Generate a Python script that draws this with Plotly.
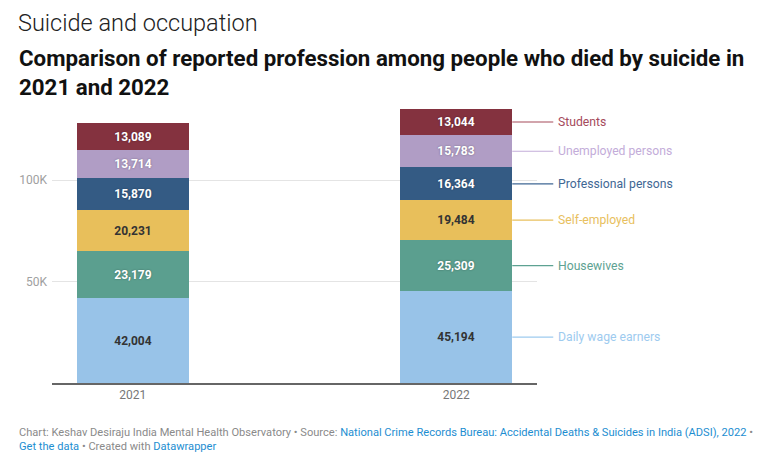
import plotly.graph_objects as go

# ---- data ----
years = ["2021", "2022"]
categories = ["Daily wage earners", "Housewives", "Self-employed",
              "Professional persons", "Unemployed persons", "Students"]
values = {
    "Daily wage earners":   [42004, 45194],
    "Housewives":           [23179, 25309],
    "Self-employed":        [20231, 19484],
    "Professional persons": [15870, 16364],
    "Unemployed persons":   [13714, 15783],
    "Students":             [13089, 13044],
}
y_tick_vals = [50000, 100000]
y_tick_text = ["50K", "100K"]

# ---- styles ----
bar_colors = {
    "Daily wage earners":   "#98c3e8",
    "Housewives":           "#5b9f8f",
    "Self-employed":        "#e8bf5b",
    "Professional persons": "#345b84",
    "Unemployed persons":   "#b09dc5",
    "Students":             "#84323f",
}
label_colors = {
    "Daily wage earners":   "#9ecbef",
    "Housewives":           "#5ea292",
    "Self-employed":        "#e8c05e",
    "Professional persons": "#3f6794",
    "Unemployed persons":   "#c3acd9",
    "Students":             "#a54a5b",
}
inside_text_colors = {
    "Daily wage earners":   "#333333",
    "Housewives":           "#ffffff",
    "Self-employed":        "#333333",
    "Professional persons": "#ffffff",
    "Unemployed persons":   "#ffffff",
    "Students":             "#ffffff",
}

# The page body has an 8px margin, so the figure is drawn at (8, 8) in the window.
OFF = 8
W, H = 768 - OFF, 459 - OFF
ML = 52 - OFF
MR = W - (537 - OFF)
MT = 99 - OFF
MB = H - (383 - OFF)
X_RANGE = [-0.25, 1.25]
Y_RANGE = [0, 140000]
BAR_W = 0.347
FONT = "Roboto, Arial, sans-serif"

plot_w = W - ML - MR
plot_h = H - MT - MB


def px_to_paper_x(px):
    return (px - OFF - ML) / plot_w


def px_to_paper_y(py):
    return (H - MB - (py - OFF)) / plot_h


def data_to_paper_x(x):
    return (x - X_RANGE[0]) / (X_RANGE[1] - X_RANGE[0])


xpos = list(range(len(years)))

fig = go.Figure()
for cat in categories:
    vals = values[cat]
    white = inside_text_colors[cat] == "#ffffff"
    fig.add_trace(go.Bar(
        x=xpos, y=vals, name=cat, width=BAR_W,
        marker=dict(color=bar_colors[cat], line=dict(width=0)),
        text=[f"{v:,}" for v in vals],
        textposition="inside", insidetextanchor="middle", textangle=0,
        constraintext="none",
        textfont=dict(family=FONT, size=12, color=inside_text_colors[cat], weight="bold",
                      shadow="0px 0px 2px rgba(0,0,0,0.35)" if white else "none"),
        hoverinfo="skip", showlegend=False,
    ))

# right-side labels with leader lines, positioned at the 2022 segment centers
last = len(years) - 1
edge_paper = data_to_paper_x(xpos[last] + BAR_W / 2)
line_end_paper = edge_paper + (554 - 513) / plot_w
text_paper = edge_paper + (557 - 513) / plot_w
cum = 0
shapes = []
annotations = []
for cat in categories:
    v = values[cat][last]
    mid = cum + v / 2
    cum += v
    shapes.append(dict(type="line", xref="paper", yref="y",
                       x0=edge_paper, x1=line_end_paper, y0=mid, y1=mid,
                       line=dict(color=label_colors[cat], width=1.2)))
    annotations.append(dict(xref="paper", yref="y", x=text_paper, y=mid,
                            text=cat, showarrow=False, xanchor="left", yanchor="middle",
                            font=dict(family=FONT, size=12.2, color=label_colors[cat])))

# titles
annotations.append(dict(xref="paper", yref="paper", x=px_to_paper_x(17), y=px_to_paper_y(23),
                        text="Suicide and occupation", showarrow=False,
                        xanchor="left", yanchor="middle", borderpad=0,
                        font=dict(family=FONT, size=23.5, color="#222222", weight=300)))
annotations.append(dict(xref="paper", yref="paper", x=px_to_paper_x(17), y=px_to_paper_y(43),
                        text="Comparison of reported profession among people who died by suicide in<br>2021 and 2022",
                        showarrow=False, xanchor="left", yanchor="top", align="left",
                        font=dict(family=FONT, size=22.3, color="#111111", weight="bold")))

# footer
link = "#1d8ed1"
footer = ("Chart: Keshav Desiraju India Mental Health Observatory • Source: "
          f"<span style='color:{link}'>National Crime Records Bureau: Accidental Deaths &amp; Suicides in India (ADSI), 2022</span> •"
          f"<br><span style='color:{link}'>Get the data</span> • Created with "
          f"<span style='color:{link}'>Datawrapper</span>")
annotations.append(dict(xref="paper", yref="paper", x=px_to_paper_x(17), y=px_to_paper_y(424),
                        text=footer, showarrow=False, xanchor="left", yanchor="top", align="left",
                        font=dict(family=FONT, size=11.1, color="#8a8a8a")))

fig.update_layout(
    width=W, height=H,
    margin=dict(l=ML, r=MR, t=MT, b=MB, pad=0),
    barmode="stack", bargap=0,
    paper_bgcolor="white", plot_bgcolor="white",
    font=dict(family=FONT),
    xaxis=dict(range=X_RANGE, tickvals=xpos, ticktext=years, showgrid=False,
               zeroline=False, showline=True, linecolor="#666666", linewidth=1.5,
               ticks="", tickfont=dict(size=12, color="#777777"), fixedrange=True),
    yaxis=dict(range=Y_RANGE, tickvals=y_tick_vals, ticktext=y_tick_text,
               showgrid=True, gridcolor="#e4e4e4", gridwidth=1, zeroline=False,
               showline=False, ticks="", ticklabelstandoff=4,
               tickfont=dict(size=12, color="#a0a0a0"), fixedrange=True),
    shapes=shapes, annotations=annotations,
)

fig.write_html("out.html")
